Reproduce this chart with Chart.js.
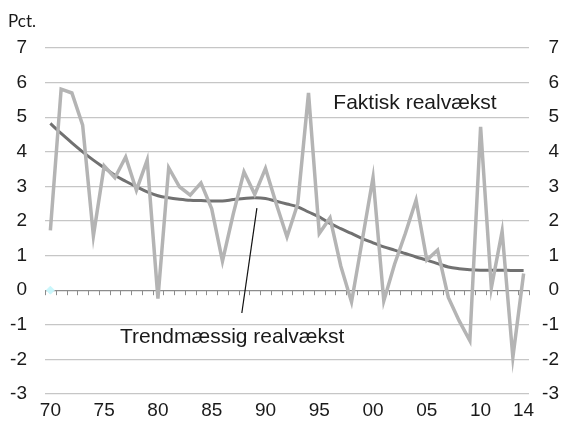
<!DOCTYPE html>
<html>
<head>
<meta charset="utf-8">
<script src="https://cdn.jsdelivr.net/npm/chart.js@4"></script>
<style>
  html, body { margin: 0; padding: 0; background: #fff; }
  #wrap { width: 567px; height: 428px; position: relative; }
</style>
</head>
<body>
<div id="wrap"><canvas id="chart"></canvas></div>
<script>
const years = [
  '1970', '1971', '1972', '1973', '1974', '1975', '1976', '1977', '1978', '1979',
  '1980', '1981', '1982', '1983', '1984', '1985', '1986', '1987', '1988', '1989',
  '1990', '1991', '1992', '1993', '1994', '1995', '1996', '1997', '1998', '1999',
  '2000', '2001', '2002', '2003', '2004', '2005', '2006', '2007', '2008', '2009',
  '2010', '2011', '2012', '2013', '2014'
];

// Faktisk realvækst, pct.
const faktisk = [
  1.73, 5.81, 5.70, 4.77, 1.57, 3.59, 3.25, 3.85, 2.89, 3.76,
  -0.24, 3.54, 2.99, 2.75, 3.10, 2.35, 0.84, 2.20, 3.42, 2.77,
  3.52, 2.50, 1.54, 2.50, 5.70, 1.64, 2.09, 0.70, -0.34, 1.45,
  3.26, -0.31, 0.75, 1.64, 2.60, 0.87, 1.16, -0.21, -0.88, -1.46,
  4.72, 0.07, 1.70, -1.94, 0.48
];

// Trendmæssig realvækst, pct.
const trend = [
  4.82, 4.53, 4.26, 4.00, 3.76, 3.54, 3.32, 3.15, 2.99, 2.84,
  2.73, 2.67, 2.63, 2.60, 2.59, 2.58, 2.58, 2.62, 2.65, 2.67,
  2.65, 2.57, 2.49, 2.41, 2.26, 2.12, 1.93, 1.78, 1.64, 1.49,
  1.37, 1.25, 1.16, 1.06, 0.96, 0.87, 0.77, 0.67, 0.62, 0.59,
  0.58, 0.58, 0.58, 0.57, 0.57
];

// stray marker in the source chart (1970, 0)
const marker = [0];

const tickYears = ['1970', '1975', '1980', '1985', '1990', '1995', '2000', '2005', '2010', '2014'];
const tickText = ['70', '75', '80', '85', '90', '95', '00', '05', '10', '14'];

const yMin = -3;
const yMax = 7;

const FONT = '"Liberation Sans", Arial, sans-serif';
const TEXT = '#1a1a1a';

// zero line tick marks, labels and the leader line
const annotations = {
  id: 'annotations',
  beforeDatasetsDraw(chart) {
    const { ctx, chartArea } = chart;
    const xs = chart.scales.x;
    const y0 = chart.scales.y.getPixelForValue(0);
    const n = years.length;
    const step = (chartArea.right - chartArea.left) / n;
    ctx.save();
    ctx.strokeStyle = '#8c8c8c';
    ctx.lineWidth = 1;
    for (let i = 0; i <= n; i++) {
      const x = Math.round(xs.left + i * step) + 0.5;
      ctx.beginPath();
      ctx.moveTo(x, y0);
      ctx.lineTo(x, y0 + 5);
      ctx.stroke();
    }
    ctx.restore();
  },
  afterDatasetsDraw(chart) {
    const { ctx } = chart;
    const xs = chart.scales.x;
    const ys = chart.scales.y;
    ctx.save();
    // leader line to trend series
    ctx.strokeStyle = '#111';
    ctx.lineWidth = 1.2;
    ctx.beginPath();
    ctx.moveTo(xs.getPixelForValue(19.2), ys.getPixelForValue(2.37));
    ctx.lineTo(xs.getPixelForValue(17.8), ys.getPixelForValue(-0.66));
    ctx.stroke();

    ctx.fillStyle = TEXT;
    ctx.font = '21px ' + FONT;
    ctx.textAlign = 'center';
    ctx.textBaseline = 'middle';
    ctx.fillText('Faktisk realvækst', xs.getPixelForValue(33.9), ys.getPixelForValue(5.4));
    ctx.fillText('Trendmæssig realvækst', xs.getPixelForValue(16.9), ys.getPixelForValue(-1.36));

    ctx.font = '17px Lato, "Open Sans", sans-serif';
    ctx.textAlign = 'left';
    ctx.textBaseline = 'alphabetic';
    ctx.fillText('Pct.', 8, 27);
    ctx.restore();
  }
};

new Chart(document.getElementById('chart'), {
  type: 'line',
  data: {
    labels: years,
    datasets: [
      {
        label: 'Faktisk realvækst',
        data: faktisk,
        borderColor: '#b4b4b4',
        borderWidth: 3.5,
        pointRadius: 0,
        tension: 0,
        order: 0
      },
      {
        label: 'Trendmæssig realvækst',
        data: trend,
        borderColor: '#717171',
        borderWidth: 3,
        pointRadius: 0,
        cubicInterpolationMode: 'monotone',
        order: 1
      },
      {
        label: 'marker',
        data: marker,
        showLine: false,
        pointStyle: 'rectRot',
        pointRadius: 4,
        pointBackgroundColor: '#c9f6fb',
        pointBorderColor: '#c9f6fb',
        order: 2
      }
    ]
  },
  options: {
    responsive: true,
    maintainAspectRatio: false,
    animation: false,
    layout: { padding: { top: 48, right: 8, left: 0, bottom: 0 } },
    plugins: {
      legend: { display: false },
      tooltip: { enabled: false }
    },
    scales: {
      x: {
        offset: true,
        grid: { display: false, drawTicks: false },
        border: { display: false },
        ticks: {
          autoSkip: false,
          maxRotation: 0,
          padding: 5,
          color: TEXT,
          font: { family: FONT, size: 19 },
          callback: (v, i) => {
            const k = tickYears.indexOf(years[i]);
            return k >= 0 ? tickText[k] : '';
          }
        },
        afterFit: s => { s.height = 34; }
      },
      y: {
        position: 'left',
        min: yMin,
        max: yMax,
        grid: {
          drawTicks: false,
          lineWidth: 1.3,
          color: c => c.tick && c.tick.value === 0 ? '#8c8c8c' : '#c6c6c6'
        },
        border: { display: false },
        ticks: { stepSize: 1, padding: 18, color: TEXT, font: { family: FONT, size: 19 } },
        afterFit: s => { s.width = 45; }
      },
      y2: {
        position: 'right',
        min: yMin,
        max: yMax,
        grid: { display: false, drawTicks: false },
        border: { display: false },
        ticks: { stepSize: 1, crossAlign: 'far', color: TEXT, font: { family: FONT, size: 19 } },
        afterFit: s => { s.width = 30; }
      }
    }
  },
  plugins: [annotations]
});
</script>
</body>
</html>
